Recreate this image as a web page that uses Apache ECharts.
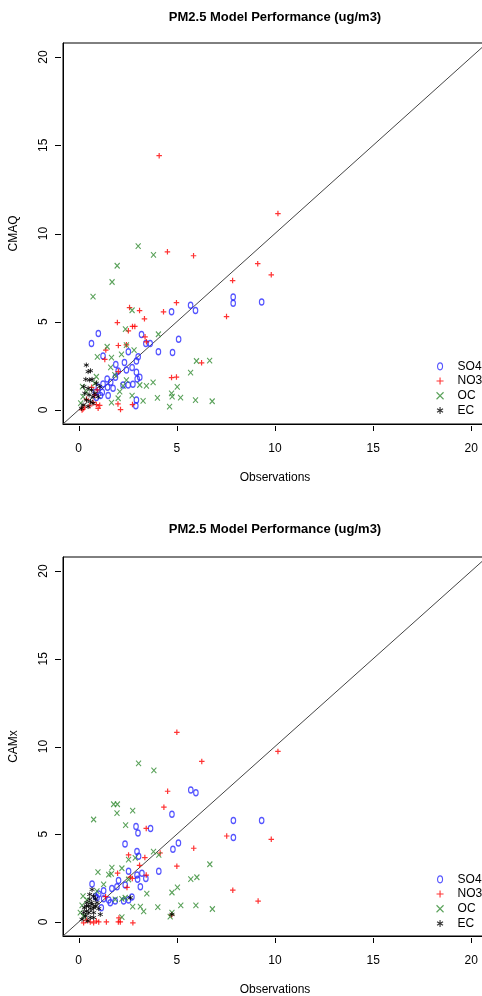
<!DOCTYPE html>
<html>
<head>
<meta charset="utf-8">
<script src="https://cdn.jsdelivr.net/npm/echarts@6/dist/echarts.min.js"></script>
<style>
  html, body { margin: 0; padding: 0; background: #fff; }
  #main { width: 482px; height: 996px; }
</style>
</head>
<body>
<div id="main"></div>
<script>
var titleText = 'PM2.5 Model Performance (ug/m3)';
var xName = 'Observations';
var yNames = ['CMAQ', 'CAMx'];
var seriesNames = ['SO4', 'NO3', 'OC', 'EC'];
var tickValues = [0, 5, 10, 15, 20];
var axisRange = [-0.8, 20.8];

// CMAQ vs observations
var so4Cmaq = [[1.00,4.33],[0.65,3.77],[1.24,3.05],[3.20,4.27],[3.42,3.77],[3.64,3.77],[4.06,3.30],[4.78,3.26],[5.09,4.01],[4.73,5.56],[5.70,5.93],[5.95,5.63],[7.87,6.40],[7.87,6.05],[9.32,6.12],[2.53,3.30],[3.03,3.01],[2.94,2.77],[2.33,2.69],[1.89,2.58],[2.01,2.20],[2.72,2.41],[2.43,2.26],[2.94,2.13],[3.11,1.85],[2.98,1.75],[2.76,1.45],[2.52,1.41],[2.26,1.41],[1.87,1.85],[1.63,1.56],[1.45,1.75],[1.47,1.28],[1.24,1.47],[1.00,1.28],[1.50,0.81],[1.11,0.81],[2.94,0.56],[2.91,0.23],[1.75,1.22],[0.85,1.00],[1.20,1.00],[0.90,0.70]];
var no3Cmaq = [[4.10,14.41],[10.15,11.13],[4.52,8.96],[5.85,8.74],[9.12,8.29],[9.81,7.66],[7.84,7.33],[4.98,6.08],[4.32,5.56],[2.59,5.80],[3.10,5.63],[3.35,5.16],[7.53,5.29],[1.97,4.95],[2.74,4.73],[2.86,4.73],[2.53,4.48],[3.38,4.14],[3.45,3.86],[2.02,3.65],[2.43,3.69],[1.38,3.39],[1.33,2.86],[6.26,2.67],[4.73,1.83],[4.98,1.86],[2.02,2.17],[2.00,0.34],[2.13,0.02],[2.74,0.30],[0.94,1.13],[0.82,0.85],[0.99,0.09],[0.17,0.00],[0.22,0.05],[0.73,0.43],[0.56,0.23],[1.07,0.26],[0.66,1.28],[0.40,0.60],[0.30,0.15],[0.90,0.30]];
var ocCmaq = [[3.03,9.28],[3.81,8.79],[1.96,8.17],[1.70,7.25],[0.73,6.42],[2.72,5.65],[2.38,4.58],[4.06,4.29],[1.45,3.58],[2.43,3.67],[0.95,3.01],[1.67,2.96],[2.18,3.15],[2.82,3.39],[1.63,2.41],[6.00,2.77],[6.67,2.79],[5.70,2.11],[5.02,1.30],[4.73,0.94],[4.76,0.75],[5.19,0.70],[5.95,0.55],[6.80,0.49],[4.63,0.19],[4.01,0.68],[3.79,1.56],[3.45,1.36],[3.11,1.41],[3.28,0.51],[2.72,0.81],[2.26,1.36],[2.09,1.04],[2.01,0.66],[1.67,0.41],[0.90,1.88],[0.82,1.51],[0.19,1.32],[0.22,0.75],[0.39,1.04],[0.10,0.38],[2.43,1.69],[1.84,1.98]];
var ecCmaq = [[0.39,2.54],[0.60,2.22],[0.48,2.17],[0.36,1.73],[0.56,1.69],[0.68,1.73],[0.90,1.51],[0.26,1.32],[0.48,1.22],[0.65,1.13],[0.31,0.94],[0.53,0.85],[0.73,0.75],[0.39,0.56],[0.60,0.47],[0.22,0.28],[0.48,0.19],[0.14,0.09],[0.82,0.94],[0.73,0.38],[1.07,1.32],[0.99,0.75]];

// CAMx vs observations
var so4Camx = [[5.71,7.52],[5.97,7.37],[4.75,6.14],[2.92,5.44],[3.66,5.33],[3.02,5.07],[7.88,5.78],[9.32,5.78],[7.88,4.82],[2.36,4.44],[5.08,4.50],[4.80,4.14],[2.97,4.01],[3.05,3.74],[4.08,2.89],[2.54,2.89],[2.97,2.68],[3.22,2.78],[3.42,2.48],[3.00,2.44],[2.03,2.36],[1.95,2.00],[2.37,2.10],[3.14,2.00],[1.69,1.91],[1.27,1.78],[0.68,2.16],[1.02,1.59],[2.71,1.42],[2.54,1.25],[2.29,1.19],[1.86,1.19],[1.61,1.10],[1.53,1.25],[1.27,1.32],[1.15,0.81],[0.93,1.38],[0.85,1.45]];
var no3Camx = [[5.00,10.81],[10.15,9.72],[6.27,9.15],[4.53,7.45],[4.34,6.54],[3.44,5.33],[7.54,4.90],[9.81,4.71],[5.86,4.20],[4.15,3.93],[2.54,3.82],[3.37,3.67],[3.10,3.23],[5.00,3.18],[1.98,2.78],[2.73,2.48],[2.63,2.55],[3.44,2.67],[2.46,1.97],[1.37,1.44],[7.85,1.81],[9.14,1.19],[4.73,0.40],[2.05,0.23],[2.12,0.00],[2.02,0.00],[2.76,-0.05],[1.41,0.00],[1.02,0.00],[0.76,-0.05],[0.59,0.00],[0.25,-0.05],[0.90,0.05],[0.40,0.10]];
var ocCamx = [[3.05,9.04],[3.83,8.64],[1.78,6.71],[1.97,6.71],[1.95,6.20],[2.75,6.35],[0.76,5.84],[2.39,5.52],[3.81,4.01],[4.08,3.82],[2.54,3.55],[2.88,3.65],[6.68,3.29],[1.69,3.10],[2.20,3.06],[0.98,2.84],[1.53,2.70],[1.66,2.74],[6.02,2.55],[5.71,2.44],[5.03,1.97],[4.75,1.68],[3.47,1.61],[2.20,1.32],[1.86,1.29],[2.37,1.38],[3.14,0.87],[3.31,0.60],[2.75,0.87],[4.03,0.85],[5.20,0.95],[5.97,0.95],[6.81,0.74],[4.75,0.53],[4.66,0.30],[2.20,0.28],[0.22,1.47],[0.17,0.95],[0.42,1.25],[0.93,1.76],[1.27,2.14],[0.25,0.34],[0.08,0.53],[2.54,2.42]];
var ecCamx = [[0.68,1.85],[0.56,1.57],[0.76,1.47],[0.42,1.10],[0.51,0.91],[0.59,0.76],[0.39,0.62],[0.76,0.53],[0.93,1.10],[1.02,0.76],[0.34,0.34],[0.59,0.25],[0.17,0.15],[0.46,0.06],[1.10,0.43],[0.85,1.32],[0.64,1.10],[0.29,0.81],[0.51,0.53],[0.76,0.25],[2.63,1.38],[4.75,0.43],[0.25,0.53],[0.68,1.00],[0.85,0.91],[0.56,1.29],[0.39,0.91],[0.76,0.81]];

var panels = [
  { yName: yNames[0], data: [so4Cmaq, no3Cmaq, ocCmaq, ecCmaq], top: 43, height: 381, titleTop: 11, legendTop: 359 },
  { yName: yNames[1], data: [so4Camx, no3Camx, ocCamx, ecCamx], top: 557, height: 379, titleTop: 523, legendTop: 872 }
];

var FONT = '"Liberation Sans", Arial, sans-serif';
var styles = [
  { symbol: 'path://M5,0 A5,7 0 1,1 5,14 A5,7 0 1,1 5,0 Z', size: [4.5, 6], color: '#2b2bff', width: 1.3 },
  { symbol: 'path://M0,5H10M5,0V10', size: 5.5, color: '#ff0000', width: 1.2 },
  { symbol: 'path://M0,0L10,10M10,0L0,10', size: [5, 5.5], color: '#2f8a2f', width: 1.1 },
  { symbol: 'path://M5,0V10M0.7,2.5L9.3,7.5M9.3,2.5L0.7,7.5', size: 5, color: '#000000', width: 1 }
];

var option = {
  animation: false,
  backgroundColor: '#ffffff',
  textStyle: { fontFamily: FONT, color: '#000' },
  title: [], legend: [], grid: [], xAxis: [], yAxis: [], series: []
};

panels.forEach(function (p, i) {
  option.title.push({
    text: titleText, left: 275, top: p.titleTop, textAlign: 'center', padding: 0,
    textStyle: { fontFamily: FONT, fontSize: 13, fontWeight: 'bold', color: '#000' }
  });
  // the plot box runs past the right edge of the page, as in the original
  option.grid.push({
    left: 63, top: p.top, width: 424, height: p.height, outerBoundsMode: 'none', containLabel: false,
    show: true, borderColor: '#000', borderWidth: 1, backgroundColor: 'transparent'
  });
  option.xAxis.push({
    type: 'value', gridIndex: i, min: axisRange[0], max: axisRange[1],
    name: xName, nameLocation: 'middle', nameGap: 48,
    nameTextStyle: { fontFamily: FONT, fontSize: 12, color: '#000' },
    axisLine: { show: true, onZero: false, lineStyle: { color: '#000', width: 1 } },
    splitLine: { show: false },
    axisTick: { show: false },
    axisLabel: { customValues: tickValues, margin: 19, fontFamily: FONT, fontSize: 12, color: '#000' }
  });
  option.yAxis.push({
    type: 'value', gridIndex: i, min: axisRange[0], max: axisRange[1],
    name: p.yName, nameLocation: 'middle', nameGap: 43, nameRotate: 90,
    nameTextStyle: { fontFamily: FONT, fontSize: 12, color: '#000' },
    axisLine: { show: true, onZero: false, lineStyle: { color: '#000', width: 1 } },
    splitLine: { show: false },
    axisTick: { show: false },
    axisLabel: { customValues: tickValues, rotate: 90, margin: 13, fontFamily: FONT, fontSize: 12, color: '#000' }
  });
  option.legend.push({
    orient: 'vertical', left: 436, top: p.legendTop, itemGap: 0,
    itemWidth: 7, itemHeight: 7, padding: 0,
    data: seriesNames.map(function (n, k) { return { name: n, icon: styles[k].symbol }; }),
    itemStyle: { borderWidth: 1.1 },
    textStyle: { fontFamily: FONT, fontSize: 12, color: '#000', lineHeight: 14.7, padding: [0, 0, 0, 9] }
  });
  // 1:1 reference line across the whole plot region
  option.series.push({
    type: 'line', xAxisIndex: i, yAxisIndex: i, silent: true, symbol: 'none',
    data: [[axisRange[0], axisRange[0]], [axisRange[1], axisRange[1]]],
    lineStyle: { color: '#444', width: 1 }, z: 1
  });
  seriesNames.forEach(function (n, k) {
    var s = styles[k];
    option.series.push({
      name: n, type: 'scatter', xAxisIndex: i, yAxisIndex: i,
      symbol: s.symbol, symbolSize: s.size, data: p.data[k],
      itemStyle: { color: 'rgba(0,0,0,0)', borderColor: s.color, borderWidth: s.width },
      z: 2 + k
    });
  });
});

var chart = echarts.init(document.getElementById('main'));
chart.setOption(option);

// R-style outward tick marks, placed through each panel's own axis scale
var ticks = [];
panels.forEach(function (p, i) {
  var finder = { xAxisIndex: i, yAxisIndex: i };
  tickValues.forEach(function (v) {
    var bx = chart.convertToPixel(finder, [v, axisRange[0]]);
    var x = Math.round(bx[0]) + 0.5, yb = Math.round(bx[1]);
    ticks.push({ type: 'line', silent: true, z: 10,
      shape: { x1: x, y1: yb + 2, x2: x, y2: yb + 7 }, style: { stroke: '#000', lineWidth: 1 } });
    var ly = chart.convertToPixel(finder, [axisRange[0], v]);
    var y = Math.round(ly[1]) + 0.5, xl = Math.round(ly[0]);
    ticks.push({ type: 'line', silent: true, z: 10,
      shape: { x1: xl - 8, y1: y, x2: xl - 2, y2: y }, style: { stroke: '#000', lineWidth: 1 } });
  });
});
chart.setOption({ graphic: ticks });
</script>
</body>
</html>
